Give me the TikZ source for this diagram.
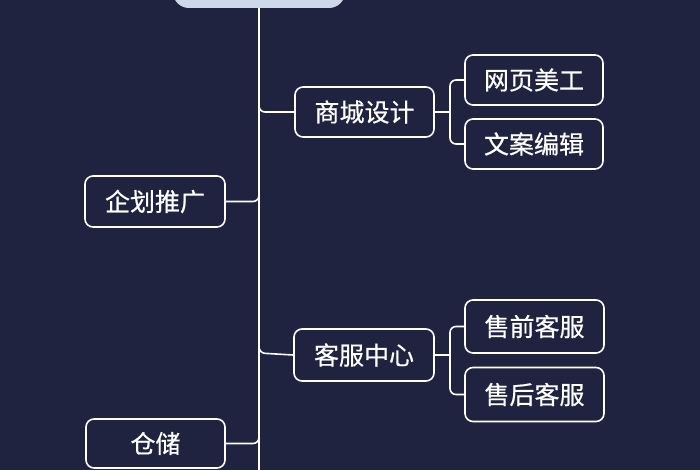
\documentclass[tikz,border=0pt]{standalone}
\usepackage{fontspec}
\newfontfamily\cjk[FakeBold=0.6]{Noto Sans CJK SC}
\definecolor{bg}{HTML}{1F2340}
\definecolor{rootfill}{HTML}{CDD8EA}
\begin{document}
\begin{tikzpicture}[x=1pt,y=-1pt,
  box/.style={draw=white,line width=1.6pt,rounded corners=8pt,fill=bg,text=white,
    font=\cjk\fontsize{25}{28}\selectfont,inner sep=0pt,minimum height=50pt},
  link/.style={draw=white,line width=1.6pt,rounded corners=6pt}]
\fill[bg] (0,0) rectangle (700,470);
\useasboundingbox (0,0) rectangle (700,470);
\node[fill=rootfill,rounded corners=16pt,minimum width=172pt,minimum height=60pt,inner sep=0pt] (root) at (259,-22) {};
\coordinate (bot) at (259,472);
\node[box,minimum width=139pt] (sc) at (364.5,112) {商城设计};
\node[box,minimum width=138pt] (wy) at (534,80) {网页美工};
\node[box,minimum width=138pt] (wa) at (534,144) {文案编辑};
\node[box,minimum width=140pt,minimum height=51pt] (qh) at (155,201.5) {企划推广};
\node[box,minimum width=140pt,minimum height=52pt] (kf) at (364,355) {客服中心};
\node[box,minimum width=139pt,minimum height=53pt] (sq) at (534.5,326.5) {售前客服};
\node[box,minimum width=139pt,minimum height=54pt] (sh) at (534.5,394.5) {售后客服};
\node[box,minimum width=139pt,minimum height=49pt] (cc) at (155.5,443.5) {仓储};
% trunk
\draw[link] (root.south) -- (bot);
% branches from trunk
\draw[link] (259,100) -- (259,112) -- (sc.west);
\draw[link] (259,341) -- (259,353) -- (kf.west);
\draw[link] (qh.east) -- (259,201.5) -- (259,190);
\draw[link] (cc.east) -- (259,443.5) -- (259,432);
% sub-branches
\draw[link] (sc.east) -- (450,112);
\draw[link] (wy.west) -- (450,80) -- (450,144) -- (wa.west);
\draw[link] (kf.east) -- (450,355);
\draw[link] (sq.west) -- (450,326.5) -- (450,394.5) -- (sh.west);
\end{tikzpicture}
\end{document}
